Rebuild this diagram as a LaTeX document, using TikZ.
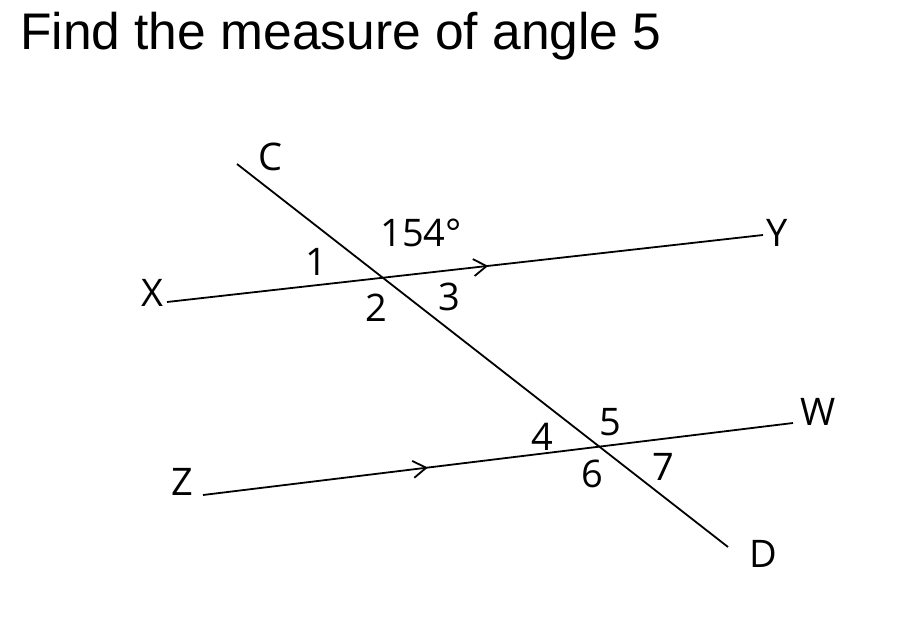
\documentclass[tikz,border=0pt]{standalone}
\usepackage{fontspec}
\setmainfont{Open Sans}
\newfontfamily\titlefont{Liberation Sans}
\usetikzlibrary{arrows.meta,decorations.markings}
\begin{document}
\begin{tikzpicture}[x=1pt,y=-1pt,
  ln/.style={line width=1.8pt},
  lbl/.style={font=\fontsize{38}{38}\selectfont, inner sep=0pt},
  midarrow/.style={postaction={decorate},decoration={markings,mark=at position #1 with {\arrow{Straight Barb[length=13pt,width=17pt,line width=1.8pt]}}}}
]
\fill[white] (0,0) rectangle (902,623);
\useasboundingbox (0,0) rectangle (902,623);

\node[inner sep=0pt, anchor=base west, font=\titlefont\fontsize{51.5}{52}\selectfont] (title) at (20,50) {Find the measure of angle 5};

% line end points
\coordinate (c) at (237,164);
\coordinate (d) at (728,547);
\coordinate (x) at (167,302);
\coordinate (y) at (763,235);
\coordinate (z) at (203,495);
\coordinate (w) at (793,423);

\draw[ln, midarrow=0.539] (x) -- (y);
\draw[ln, midarrow=0.381] (z) -- (w);
\draw[ln] (c) -- (d);

% letter labels
\node[lbl] (lC) at (270,157) {C};
\node[lbl] (lX) at (152,293) {X};
\node[lbl] (lY) at (777,233) {Y};
\node[lbl] (lZ) at (182,482) {Z};
\node[lbl] (lW) at (818,412) {W};
\node[lbl] (lD) at (763,554) {D};

% angle labels
\node[lbl] (a154) at (421,233) {154°};
\node[lbl] (a1) at (316,262) {1};
\node[lbl] (a2) at (376,308) {2};
\node[lbl] (a3) at (449,297) {3};
\node[lbl] (a4) at (542,437) {4};
\node[lbl] (a5) at (610,422) {5};
\node[lbl] (a6) at (592,474) {6};
\node[lbl] (a7) at (663,467) {7};
\end{tikzpicture}
\end{document}
